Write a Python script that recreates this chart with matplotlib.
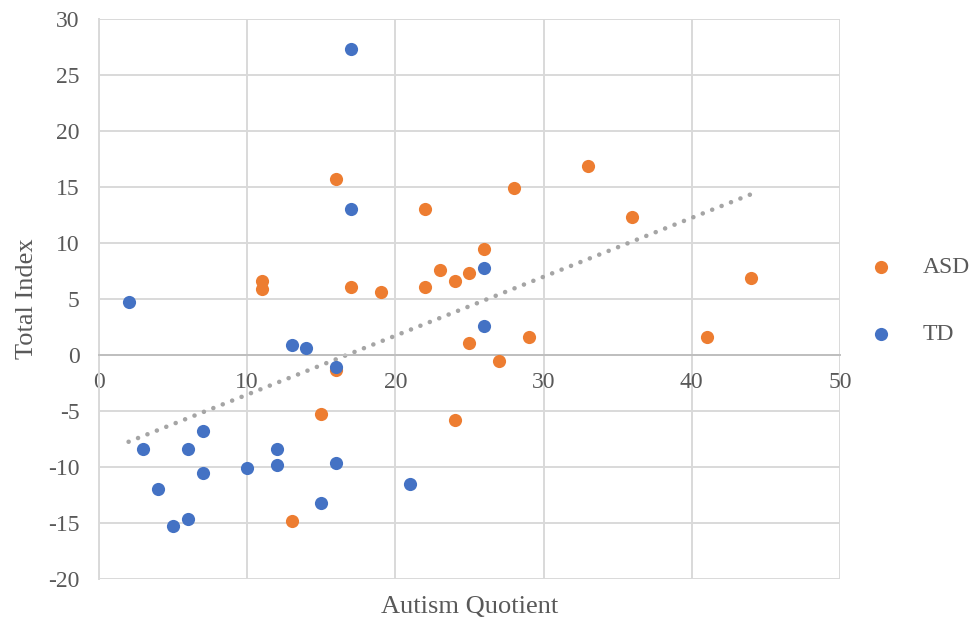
import numpy as np
import matplotlib.pyplot as plt

plt.rcParams['font.family'] = ['Liberation Serif', 'DejaVu Serif']
plt.rcParams['axes.unicode_minus'] = False

# ASD group
asd_aq = [16, 22, 28, 33, 36, 26, 44, 41, 29, 27, 25, 25, 24, 23, 22, 19, 17, 11, 11, 16, 15, 24, 13]
asd_index = [15.7, 13.0, 14.9, 16.9, 12.3, 9.5, 6.85, 1.6, 1.6, -0.5, 1.1, 7.3, 6.6, 7.6, 6.1, 5.65, 6.1, 6.6, 5.9, -1.3, -5.3, -5.8, -14.85]

# TD group
td_aq = [2, 17, 17, 26, 26, 13, 14, 16, 3, 6, 7, 7, 4, 5, 6, 10, 12, 12, 16, 15, 21]
td_index = [4.7, 27.3, 13.0, 7.8, 2.55, 0.9, 0.65, -1.05, -8.4, -8.4, -6.75, -10.55, -12.0, -15.3, -14.6, -10.1, -8.4, -9.85, -9.6, -13.2, -11.5]

orange = '#ED7D31'
blue = '#4472C4'
grey_txt = '#595959'

fig = plt.figure(figsize=(9.75, 6.23), dpi=100)
ax = fig.add_axes([0.1015, 0.0706, 0.76, 0.899])

ax.scatter(asd_aq, asd_index, s=90, color=orange, label='ASD', zorder=3, linewidths=0)
ax.scatter(td_aq, td_index, s=90, color=blue, label='TD', zorder=3, linewidths=0)

# linear trend over all points
all_x = np.array(asd_aq + td_aq, dtype=float)
all_y = np.array(asd_index + td_index, dtype=float)
k, b = np.polyfit(all_x, all_y, 1)
xs = np.array([all_x.min(), all_x.max()])
ax.plot(xs, k * xs + b, color='#A5A5A5', lw=3.3, linestyle=(0, (0.01, 2.2)),
        dash_capstyle='round', zorder=2)

ax.set_xlim(0, 50)
ax.set_ylim(-20, 30)
ax.set_xticks(range(0, 51, 10))
ax.set_yticks(range(-20, 31, 5))
ax.grid(True, color='#D9D9D9', lw=1.4)
ax.set_axisbelow(True)

for s in ['top', 'right']:
    ax.spines[s].set_visible(False)
ax.spines['left'].set_color('#D9D9D9')
ax.spines['left'].set_linewidth(1.4)
ax.spines['bottom'].set_position(('data', 0))
ax.spines['bottom'].set_color('#BFBFBF')
ax.spines['bottom'].set_linewidth(1.4)

ax.tick_params(axis='both', length=0, labelsize=17, labelcolor=grey_txt)
ax.tick_params(axis='y', pad=14)
ax.tick_params(axis='x', pad=12)

ax.set_xlabel('Autism Quotient', fontsize=19, color=grey_txt)
ax.xaxis.set_label_coords(0.5, -0.03)
ax.set_ylabel('Total Index', fontsize=19, color=grey_txt)
ax.yaxis.set_label_coords(-0.082, 0.5)

fig.legend(*ax.get_legend_handles_labels(), loc='center left',
           bbox_to_anchor=(0.891, 0.517), bbox_transform=fig.transFigure,
           frameon=False, borderpad=0, borderaxespad=0,
           fontsize=17, labelcolor=grey_txt, labelspacing=1.95,
           handlelength=1.0, handletextpad=1.3, markerscale=1.0)

fig.savefig('out.png', dpi=100)
